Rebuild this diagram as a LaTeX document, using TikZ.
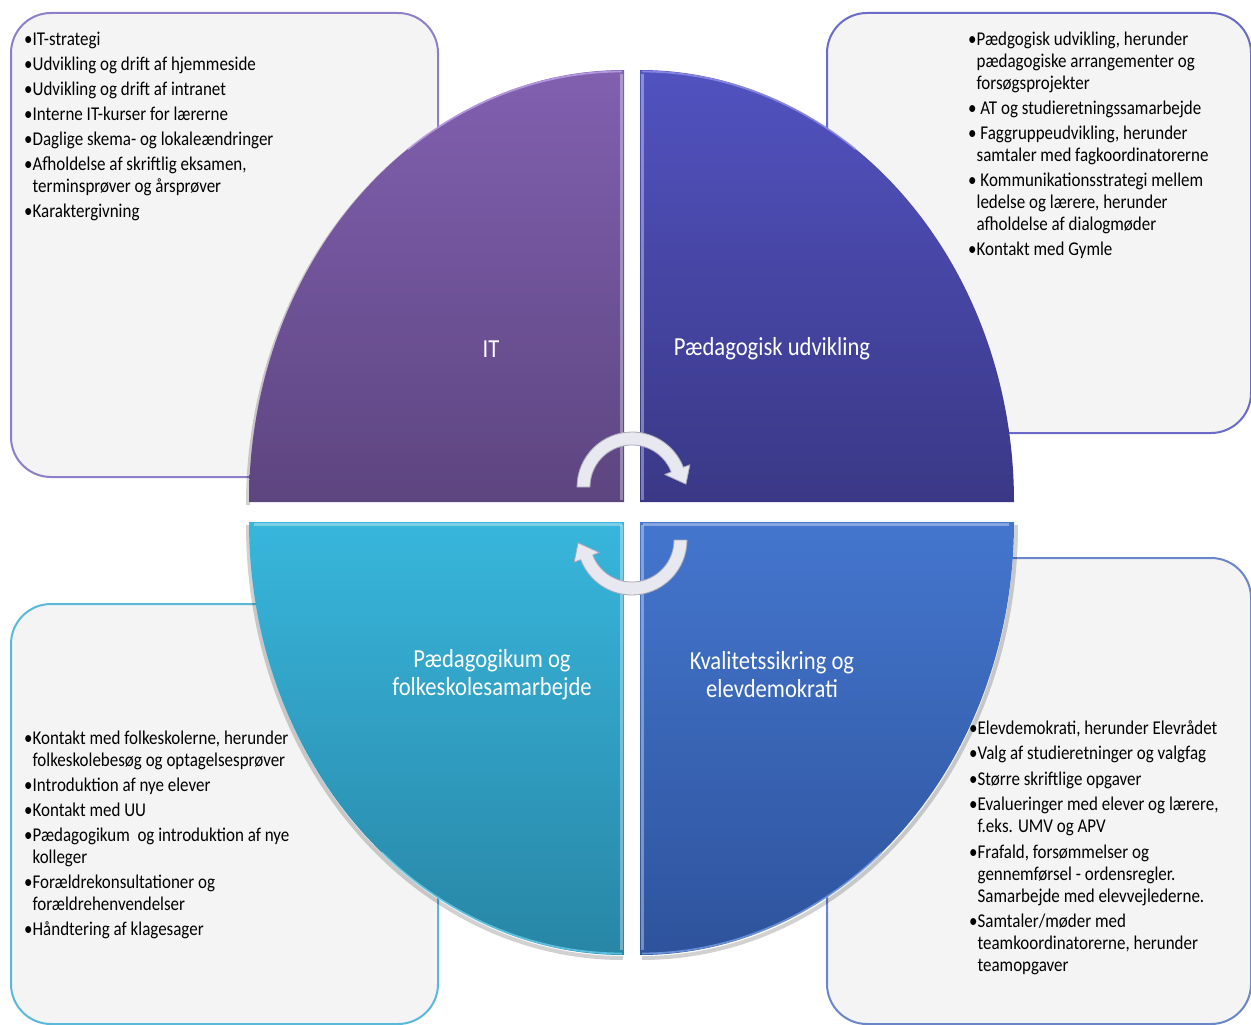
\documentclass[tikz,border=0pt]{standalone}
\usepackage{fontspec}
\newfontfamily\calfont[FakeStretch=0.87]{Carlito}
\definecolor{boxfill}{HTML}{F4F4F4}
\definecolor{bTL}{HTML}{8E7EC8}
\definecolor{bTR}{HTML}{6A6AC8}
\definecolor{bBL}{HTML}{5AB8D8}
\definecolor{bBR}{HTML}{6A86C8}
\definecolor{qTLt}{HTML}{8160B0}
\definecolor{qTLb}{HTML}{5D4580}
\definecolor{qTRt}{HTML}{5252C0}
\definecolor{qTRb}{HTML}{3A3886}
\definecolor{qBLt}{HTML}{38B6DC}
\definecolor{qBLb}{HTML}{2886A6}
\definecolor{qBRt}{HTML}{4476CE}
\definecolor{qBRb}{HTML}{2E539C}
\definecolor{rimTL}{HTML}{C8B0F0}
\definecolor{rimTR}{HTML}{9A9AF0}
\definecolor{rimBL}{HTML}{70D8F8}
\definecolor{rimBR}{HTML}{80A8F0}
\definecolor{arrowfill}{HTML}{E8E8F0}
\definecolor{arrowedge}{HTML}{A8A8B8}
\tikzset{
  box/.style={rounded corners=40pt, line width=2pt, fill=boxfill, anchor=north west, inner sep=0pt},
  itemtxt/.style={anchor=north west, inner sep=0pt, align=left, text=black,
    font=\calfont\fontsize{19.5}{22}\selectfont},
  quadlbl/.style={text=white, align=center, inner sep=0pt,
    font=\calfont\fontsize{26}{28}\selectfont},
  arrowshape/.style={fill=arrowfill, draw=arrowedge, line width=0.8pt, line join=round},
  bevel/.style={white, opacity=0.35, line width=2.5pt},
  rim/.style={line width=1.8pt, opacity=0.7},
  qshadow/.style={black, opacity=0.18, line width=4pt},
}
\newcommand{\fl}{\rule{0pt}{15pt}}
\newcommand{\ind}{\phantom{•}}
\begin{document}
\begin{tikzpicture}[x=1pt,y=-1pt]
\useasboundingbox (0,0) rectangle (1251,1025);
% boxes
\node (boxTL) [box, draw=bTL, minimum width=427pt, minimum height=464pt] at (10,12) {};
\node (boxTR) [box, draw=bTR, minimum width=424pt, minimum height=420pt] at (826,12) {};
\node (boxBL) [box, draw=bBL, minimum width=427pt, minimum height=420pt] at (10,603) {};
\node (boxBR) [box, draw=bBR, minimum width=424pt, minimum height=466pt] at (826,557) {};
% soft shadows of the quadrants
\draw[qshadow] (248,525) arc[start angle=180, end angle=90, x radius=375, y radius=433];
\draw[qshadow] (1016,525) arc[start angle=0, end angle=90, x radius=374, y radius=433];
\draw[qshadow] (248,505) arc[start angle=180, end angle=250, x radius=375, y radius=432];
% quadrants
\shade[top color=qTLt, bottom color=qTLb] (624,502) -- (249,502) arc[start angle=180, end angle=270, x radius=375, y radius=432] -- cycle;
\shade[top color=qTRt, bottom color=qTRb] (640,502) -- (640,70) arc[start angle=270, end angle=360, x radius=374, y radius=432] -- cycle;
\shade[top color=qBRt, bottom color=qBRb] (640,522) -- (1014,522) arc[start angle=0, end angle=90, x radius=374, y radius=433] -- cycle;
\shade[top color=qBLt, bottom color=qBLb] (624,522) -- (624,955) arc[start angle=90, end angle=180, x radius=375, y radius=433] -- cycle;
% rim highlights along the curved edges
\draw[rim, rimTL] (622,71.5) arc[start angle=270, end angle=235, x radius=373.5, y radius=430.5];
\draw[rim, rimTR] (642,71.5) arc[start angle=270, end angle=305, x radius=372.5, y radius=430.5];
\draw[rim, rimBL] (622,953.5) arc[start angle=90, end angle=130, x radius=373.5, y radius=431.5];
\draw[rim, rimBR] (642,953.5) arc[start angle=90, end angle=50, x radius=372.5, y radius=431.5];
% bevel highlights
\draw[bevel] (621.5,74) -- (621.5,499.5);
\draw[bevel] (642.5,74) -- (642.5,499.5);
\draw[bevel] (621.5,525) -- (621.5,950);
\draw[bevel] (642.5,525) -- (642.5,950);
\draw[bevel] (254,524.5) -- (621.5,524.5);
\draw[bevel] (642.5,524.5) -- (1009,524.5);
% quadrant labels
\node (lIT) [quadlbl] at (491,349) {IT};
\node (lPU) [quadlbl] at (772,349) {Pædagogisk udvikling};
\node (lPF) [quadlbl] at (492,675) {Pædagogikum og\\folkeskolesamarbejde};
\node (lKE) [quadlbl] at (772,675) {Kvalitetssikring og\\elevdemokrati};
% circular arrows
\coordinate (c1) at (632,487);
\coordinate (c2) at (632,540);
\filldraw[arrowshape] ([shift={(180:55)}]c1) arc[start angle=180, end angle=339, radius=55]
  -- ([shift={(339:62)}]c1) -- ([shift={(357:54)}]c1) -- ([shift={(339:35)}]c1)
  -- ([shift={(339:42)}]c1) arc[start angle=339, end angle=180, radius=42] -- cycle;
\filldraw[arrowshape] ([shift={(0:55)}]c2) arc[start angle=0, end angle=159, radius=55]
  -- ([shift={(159:62)}]c2) -- ([shift={(177:54)}]c2) -- ([shift={(159:35)}]c2)
  -- ([shift={(159:42)}]c2) arc[start angle=159, end angle=0, radius=42] -- cycle;
% texts
\node (tTL) [itemtxt] at (24,30) {\fl•IT-strategi\\[3pt]
•Udvikling og drift af hjemmeside\\[3pt]
•Udvikling og drift af intranet\\[3pt]
•Interne IT-kurser for lærerne\\[3pt]
•Daglige skema- og lokaleændringer\\[3pt]
•Afholdelse af skriftlig eksamen,\\
\ind terminsprøver og årsprøver\\[3pt]
•Karaktergivning};
\node (tTR) [itemtxt] at (968,30) {\fl•Pædgogisk udvikling, herunder\\
\ind pædagogiske arrangementer og\\
\ind forsøgsprojekter\\[3pt]
• AT og studieretningssamarbejde\\[3pt]
• Faggruppeudvikling, herunder\\
\ind samtaler med fagkoordinatorerne\\[3pt]
• Kommunikationsstrategi mellem\\
\ind ledelse og lærere, herunder\\
\ind afholdelse af dialogmøder\\[3pt]
•Kontakt med Gymle};
\node (tBL) [itemtxt] at (24,729) {\fl•Kontakt med folkeskolerne, herunder\\
\ind folkeskolebesøg og optagelsesprøver\\[3pt]
•Introduktion af nye elever\\[3pt]
•Kontakt med UU\\[3pt]
•Pædagogikum\ \ og introduktion af nye\\
\ind kolleger\\[3pt]
•Forældrekonsultationer og\\
\ind forældrehenvendelser\\[3pt]
•Håndtering af klagesager};
\node (tBR) [itemtxt] at (969,719) {\fl•Elevdemokrati, herunder Elevrådet\\[3.5pt]
•Valg af studieretninger og valgfag\\[3.5pt]
•Større skriftlige opgaver\\[3.5pt]
•Evalueringer med elever og lærere,\\
\ind f.eks. UMV og APV\\[3.5pt]
•Frafald, forsømmelser og\\
\ind gennemførsel - ordensregler.\\
\ind Samarbejde med elevvejlederne.\\[3.5pt]
•Samtaler/møder med\\
\ind teamkoordinatorerne, herunder\\
\ind teamopgaver};
\end{tikzpicture}
\end{document}
